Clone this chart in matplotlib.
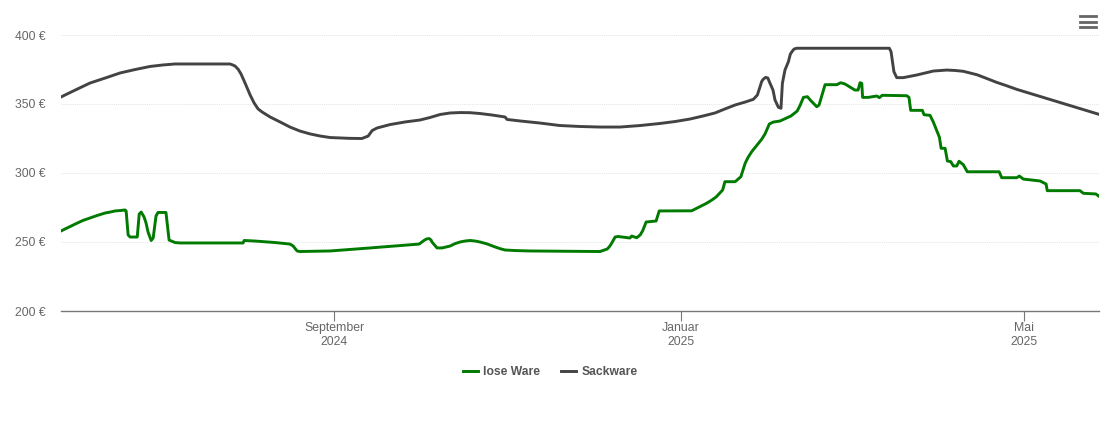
import matplotlib
matplotlib.use("Agg")
import matplotlib.pyplot as plt
from matplotlib.lines import Line2D

plt.rcParams['font.family'] = ['Liberation Sans', 'DejaVu Sans']

# days counted from 1 Sep 2024, prices in euro
lose_days = [-96.0,-93.5,-91.0,-88.3,-85.8,-83.3,-80.5,-78.7,-77.0,-75.2,-73.5,-73.1,-72.4,-71.7,-69.2,-68.5,-67.8,-66.8,-66.1,-65.4,-64.3,-63.6,
             -62.6,-61.9,-59.1,-58.0,-55.9,-54.1,-32.0,-31.6,-27.8,-20.7,-15.5,-14.4,-13.0,-12.0,-1.4,12.7,
             29.9,31.6,32.5,33.4,34.1,34.4,36.2,38.0,40.8,42.5,44.3,46.0,47.8,49.6,51.3,53.8,56.6,58.3,60.1,63.6,68.9,93.5,96.0,96.7,97.4,98.8,99.8,
             104.0,104.6,106.4,107.6,108.5,109.7,113.2,114.3,125.7,128.6,130.8,132.8,134.3,135.7,136.6,137.4,141.0,143.0,
             144.5,145.5,146.8,150.3,151.5,153.0,154.4,156.8,159.7,160.6,162.8,163.8,165.0,166.4,167.7,169.7,170.5,172.6,176.7,178.1,179.6,
             183.1,184.2,184.9,185.5,185.8,187.8,190.8,191.7,192.7,201.3,202.1,202.7,206.8,207.4,209.5,210.6,
             212.8,213.4,214.8,215.6,216.8,217.7,218.9,219.7,221.2,222.6,233.8,234.7,240.0,240.9,242.3,248.2,
             250.3,250.7,262.2,263.4,267.8,268.9]
lose_ware = [258.0,260.5,263.0,265.6,267.4,269.2,271.0,271.7,272.5,272.8,273.2,272.5,255.1,253.6,253.6,270.3,271.7,268.1,263.8,257.2,251.1,252.9,
             268.8,271.4,271.4,251.4,249.6,249.3,249.3,251.1,250.7,249.6,248.5,247.1,243.5,243.1,243.5,245.7,
             248.5,251.1,252.2,252.5,251.4,250.0,245.7,245.7,247.1,248.8,250.0,250.7,251.1,250.7,250.0,248.6,246.4,245.2,244.2,243.8,243.5,243.1,244.9,246.4,248.5,253.6,254.0,
             252.9,254.3,253.1,255.1,258.2,264.5,265.2,272.5,272.6,275.6,277.9,280.4,282.6,285.7,287.7,293.7,293.7,297.3,
             307.0,311.2,315.4,324.4,328.3,335.5,336.9,337.7,340.4,341.3,344.9,348.9,354.8,355.3,352.2,348.0,349.3,364.0,364.0,365.4,364.5,
             360.1,360.1,365.4,365.0,354.8,354.8,355.8,354.6,356.3,356.0,354.8,345.4,345.4,342.2,341.8,337.2,
             325.9,317.9,317.9,308.7,308.2,305.1,305.1,308.5,306.0,300.9,300.9,296.6,296.6,297.8,295.6,294.2,
             292.0,287.2,287.2,285.3,284.8,283.1]

sack_days = [-96.0,-91.0,-85.8,-80.5,-75.2,-69.9,-64.7,-60.1,-55.9,-50.6,-36.6,-35.9,-34.8,-33.7,-32.7,-31.3,-29.5,-28.1,-26.7,-25.3,-22.5,-19.0,-15.5,-12.0,-8.4,-4.9,-1.4,2.1,5.6,9.8,12.0,13.4,15.1,
             19.7,25.0,30.2,33.7,37.3,40.8,44.3,47.8,51.3,55.6,60.1,60.8,65.4,72.4,79.4,86.5,93.5,100.5,107.6,114.6,119.9,125.1,129.7,133.9,137.4,141.0,144.5,147.4,148.8,149.6,150.3,150.8,151.7,152.5,
             153.0,154.3,155.0,156.2,157.1,157.6,158.5,159.7,160.4,161.2,161.7,162.6,195.2,195.8,196.8,197.8,200.1,204.8,210.7,215.4,218.3,
             221.2,226.0,228.8,232.9,236.2,240.0,268.9]
sackware = [355.1,360.1,365.2,368.8,372.5,375.0,377.2,378.3,379.0,379.0,379.0,378.5,377.5,375.1,371.7,365.2,356.5,350.7,346.4,344.2,340.6,337.0,333.3,330.4,328.3,326.8,325.7,325.4,325.1,325.0,326.8,330.8,332.6,
            335.1,337.0,338.4,340.2,342.4,343.5,343.8,343.7,343.1,342.0,340.6,338.8,337.7,336.2,334.4,333.7,333.3,333.3,334.4,335.9,337.3,339.1,341.3,343.5,346.4,349.3,351.4,353.4,356.5,361.6,366.2,367.8,369.3,368.8,
            366.2,360.1,352.9,347.6,346.9,365.0,374.6,380.6,386.2,388.6,389.8,390.4,390.4,387.9,373.4,369.1,369.1,371.0,373.9,374.6,374.3,
            373.7,371.2,369.0,365.7,363.4,360.6,342.5]

y_ticks = [200, 250, 300, 350, 400]
y_labels = ["200 €", "250 €", "300 €", "350 €", "400 €"]
x_ticks = [0, 122, 242.4]
x_labels = ["September\n2024", "Januar\n2025", "Mai\n2025"]

fig = plt.figure(figsize=(11.1, 4.22), dpi=100)
ax = fig.add_axes([61/1110, 111/422, 1038/1110, 276/422])

ax.plot(lose_days, lose_ware, color="#007a00", lw=2.1, label="lose Ware", solid_joinstyle="round")
ax.plot(sack_days, sackware, color="#434343", lw=2.1, label="Sackware", solid_joinstyle="round")

ax.set_xlim(-96, 268.9)
ax.set_ylim(200, 400)
ax.set_yticks(y_ticks)
ax.set_yticklabels(y_labels)
ax.set_xticks(x_ticks)
ax.set_xticklabels(x_labels, linespacing=1.25)
ax.grid(axis="y", color="#e6e6e6", lw=0.7, ls=(0, (1, 1)))
ax.set_axisbelow(True)
for s in ["top", "left", "right"]:
    ax.spines[s].set_visible(False)
ax.spines["bottom"].set_color("#777777")
ax.spines["bottom"].set_linewidth(1)
ax.tick_params(axis="y", length=0, pad=11, labelsize=8.7, labelcolor="#666666")
ax.tick_params(axis="x", length=7, width=0.8, color="#777777", pad=0.8, labelsize=8.8, labelcolor="#666666")

leg = ax.legend(loc="center", bbox_to_anchor=(550/1110, 49.7/422), bbox_transform=fig.transFigure, ncol=2,
                frameon=False, fontsize=8.7, handlelength=1.25, columnspacing=1.75, handletextpad=0.42)
for t in leg.get_texts():
    t.set_color("#555555")
    t.set_fontweight("bold")

# menu button top right
for py in [16, 21.5, 27]:
    fig.add_artist(Line2D([1080/1110, 1096/1110], [1 - py/422, 1 - py/422], color="#666666", lw=2))

fig.savefig("out.png", dpi=100)
